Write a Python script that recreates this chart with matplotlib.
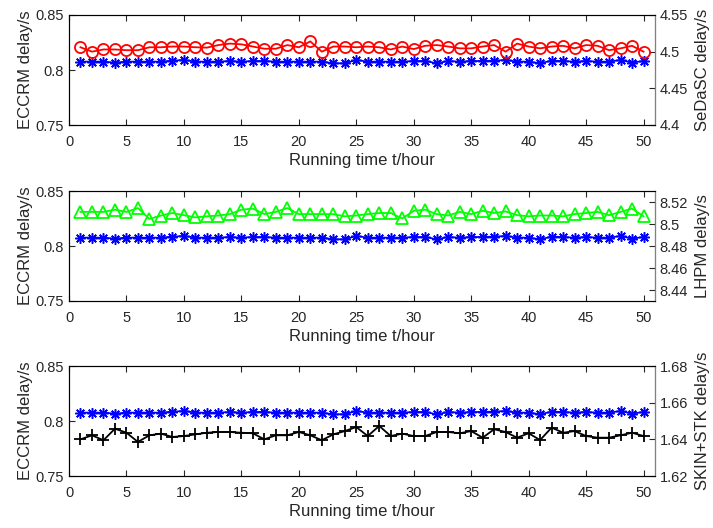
import numpy as np
import matplotlib
matplotlib.use("Agg")
import matplotlib.pyplot as plt
from matplotlib.ticker import FormatStrFormatter

plt.rcParams['font.family'] = ['Liberation Sans', 'DejaVu Sans']

hours = np.arange(1, 51)

# ECCRM delay (same series in all three panels)
eccrm = [0.8076, 0.8076, 0.8076, 0.8067, 0.8076, 0.8076, 0.8076, 0.8076, 0.8085, 0.8091,
         0.8076, 0.8076, 0.8076, 0.8082, 0.8076, 0.8082, 0.8082, 0.8076, 0.8076, 0.8076,
         0.8076, 0.8076, 0.8061, 0.8061, 0.8091, 0.8076, 0.8076, 0.8076, 0.8076, 0.8082,
         0.8082, 0.8061, 0.8082, 0.8076, 0.8082, 0.8082, 0.8085, 0.8091, 0.8076, 0.8076,
         0.8061, 0.8085, 0.8082, 0.8076, 0.8082, 0.8076, 0.8076, 0.8091, 0.8067, 0.8082]

sedasc = [4.506, 4.500, 4.503, 4.503, 4.502, 4.502, 4.506, 4.506, 4.507, 4.507,
          4.506, 4.5055, 4.509, 4.511, 4.510, 4.507, 4.504, 4.504, 4.509, 4.506,
          4.514, 4.500, 4.507, 4.507, 4.506, 4.507, 4.506, 4.503, 4.507, 4.5035,
          4.508, 4.509, 4.507, 4.5045, 4.5045, 4.507, 4.509, 4.500, 4.511, 4.507,
          4.5045, 4.507, 4.508, 4.5045, 4.509, 4.508, 4.502, 4.5045, 4.508, 4.500]

lhpm = [8.511, 8.511, 8.511, 8.513, 8.511, 8.5145, 8.5046, 8.5077, 8.510, 8.508,
        8.506, 8.507, 8.5077, 8.509, 8.513, 8.514, 8.509, 8.511, 8.5145, 8.509,
        8.509, 8.509, 8.509, 8.507, 8.5077, 8.509, 8.510, 8.510, 8.505, 8.512,
        8.513, 8.509, 8.5077, 8.511, 8.509, 8.512, 8.510, 8.5114, 8.508, 8.507,
        8.5077, 8.5077, 8.507, 8.509, 8.510, 8.511, 8.508, 8.511, 8.514, 8.507]

skin_stk = [1.6400, 1.6422, 1.6395, 1.6458, 1.6436, 1.6386, 1.6422, 1.6431, 1.6413, 1.6418,
            1.6427, 1.6436, 1.6440, 1.6440, 1.6436, 1.6433, 1.6400, 1.6422, 1.6422, 1.6440,
            1.6422, 1.6395, 1.6427, 1.6445, 1.6467, 1.6418, 1.6473, 1.6418, 1.6431, 1.6418,
            1.6418, 1.6440, 1.6440, 1.6433, 1.6445, 1.6409, 1.6455, 1.6440, 1.6409, 1.6433,
            1.6396, 1.6464, 1.6436, 1.6445, 1.6418, 1.6409, 1.6409, 1.6422, 1.6436, 1.6418]

left_ticks = [0.75, 0.8, 0.85]
xticks = np.arange(0, 51, 5)

panels = [
    (sedasc, 'SeDaSC delay/s', 'o', 'red', (4.4, 4.55), [4.4, 4.45, 4.5, 4.55]),
    (lhpm, 'LHPM delay/s', '^', '#00ff00', (8.43, 8.53), [8.44, 8.46, 8.48, 8.5, 8.52]),
    (skin_stk, 'SKIN+STK delay/s', '+', 'black', (1.62, 1.68), [1.62, 1.64, 1.66, 1.68]),
]

asterisk = (8, 2, 0)   # matlab style '*'

fig = plt.figure(figsize=(7.13, 5.28), dpi=100)
W, H = 713.0, 528.0
tops = [15, 191, 366]
for (vals, rlabel, mk, col, rlim, rticks), top in zip(panels, tops):
    ax = fig.add_axes([69 / W, 1 - (top + 110) / H, 586 / W, 110 / H])
    ax.plot(hours, eccrm, '-', color='blue', marker=asterisk, markersize=7.5, mew=1.1, lw=1.3)
    ax.set_xlim(0, 51)
    ax.set_ylim(0.75, 0.85)
    ax.set_xticks(xticks)
    ax.set_yticks(left_ticks)
    ax.yaxis.set_major_formatter(FormatStrFormatter('%g'))
    ax.tick_params(direction='in', length=4, labelsize=10.5, top=True, right=False,
                   colors='0.15')
    ax.tick_params(axis='x', pad=7)
    ax.set_xlabel('Running time t/hour', fontsize=12, color='0.15', labelpad=3)
    ax.set_ylabel('ECCRM delay/s', fontsize=12, color='0.15', labelpad=2)
    for s in ax.spines.values():
        s.set_color('0.15')

    ax2 = ax.twinx()
    if mk == '+':
        ax2.plot(hours, vals, '-', color=col, marker=mk, markersize=9, mew=1.3, lw=1.3)
    else:
        ax2.plot(hours, vals, '-', color=col, marker=mk, markersize=8, mfc='none',
                 mew=1.3, lw=1.3)
    ax2.set_ylim(*rlim)
    ax2.set_yticks(rticks)
    ax2.yaxis.set_major_formatter(FormatStrFormatter('%g'))
    ax2.tick_params(direction='in', length=4, labelsize=10.5, colors='0.15')
    ax2.spines['right'].set_color('0.5')
    ax2.set_ylabel(rlabel, fontsize=12, color='0.15', labelpad=5)

fig.savefig('out.png', dpi=100)
